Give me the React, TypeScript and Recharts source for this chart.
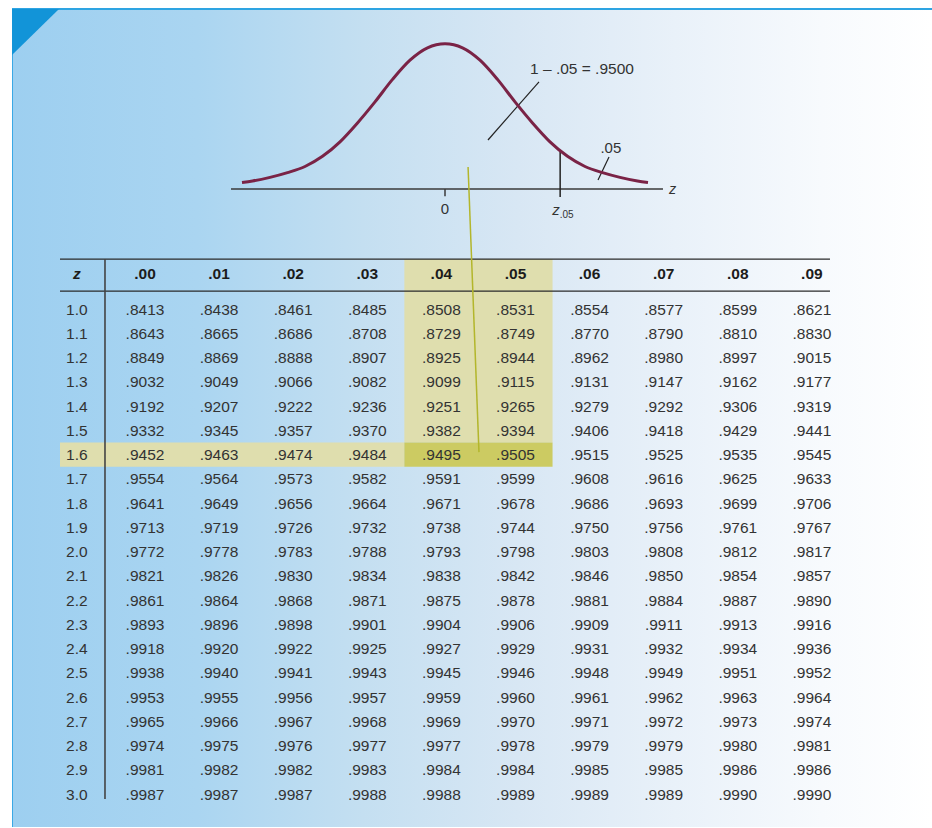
import {
  Line,
  LineChart,
  ReferenceArea,
  ReferenceDot,
  ReferenceLine,
  Scatter,
  ScatterChart,
  XAxis,
  YAxis,
} from "recharts";

// ---- table data ----
const zRows = [
  "1.0", "1.1", "1.2", "1.3", "1.4", "1.5", "1.6", "1.7", "1.8", "1.9", "2.0",
  "2.1", "2.2", "2.3", "2.4", "2.5", "2.6", "2.7", "2.8", "2.9", "3.0",
];
const colHeads = [".00", ".01", ".02", ".03", ".04", ".05", ".06", ".07", ".08", ".09"];

const col00 = [.8413, .8643, .8849, .9032, .9192, .9332, .9452, .9554, .9641, .9713, .9772, .9821, .9861, .9893, .9918, .9938, .9953, .9965, .9974, .9981, .9987];
const col01 = [.8438, .8665, .8869, .9049, .9207, .9345, .9463, .9564, .9649, .9719, .9778, .9826, .9864, .9896, .9920, .9940, .9955, .9966, .9975, .9982, .9987];
const col02 = [.8461, .8686, .8888, .9066, .9222, .9357, .9474, .9573, .9656, .9726, .9783, .9830, .9868, .9898, .9922, .9941, .9956, .9967, .9976, .9982, .9987];
const col03 = [.8485, .8708, .8907, .9082, .9236, .9370, .9484, .9582, .9664, .9732, .9788, .9834, .9871, .9901, .9925, .9943, .9957, .9968, .9977, .9983, .9988];
const col04 = [.8508, .8729, .8925, .9099, .9251, .9382, .9495, .9591, .9671, .9738, .9793, .9838, .9875, .9904, .9927, .9945, .9959, .9969, .9977, .9984, .9988];
const col05 = [.8531, .8749, .8944, .9115, .9265, .9394, .9505, .9599, .9678, .9744, .9798, .9842, .9878, .9906, .9929, .9946, .9960, .9970, .9978, .9984, .9989];
const col06 = [.8554, .8770, .8962, .9131, .9279, .9406, .9515, .9608, .9686, .9750, .9803, .9846, .9881, .9909, .9931, .9948, .9961, .9971, .9979, .9985, .9989];
const col07 = [.8577, .8790, .8980, .9147, .9292, .9418, .9525, .9616, .9693, .9756, .9808, .9850, .9884, .9911, .9932, .9949, .9962, .9972, .9979, .9985, .9989];
const col08 = [.8599, .8810, .8997, .9162, .9306, .9429, .9535, .9625, .9699, .9761, .9812, .9854, .9887, .9913, .9934, .9951, .9963, .9973, .9980, .9986, .9990];
const col09 = [.8621, .8830, .9015, .9177, .9319, .9441, .9545, .9633, .9706, .9767, .9817, .9857, .9890, .9916, .9936, .9952, .9964, .9974, .9981, .9986, .9990];

const columns = [col00, col01, col02, col03, col04, col05, col06, col07, col08, col09];

// ---- curve data (height of the bell) ----
const curveZ = [-2.9, -2.75, -2.5, -2.25, -2, -1.75, -1.5, -1.25, -1, -0.75, -0.5, -0.25, 0,
  0.25, 0.5, 0.75, 1, 1.25, 1.5, 1.75, 2, 2.25, 2.5, 2.75, 2.9];
const curveH = [0.018, 0.022, 0.032, 0.045, 0.062, 0.09, 0.13, 0.182, 0.24, 0.302, 0.355, 0.389, 0.4,
  0.389, 0.355, 0.302, 0.24, 0.182, 0.13, 0.09, 0.062, 0.045, 0.032, 0.022, 0.018];

const zCrit = 1.645;
const highlightCols = [4, 5];
const highlightRow = 6;

const FONT = "'Liberation Sans', Arial, sans-serif";
const INK = "#333";

const curveData = curveZ.map((z, i) => ({ z, d: curveH[i] }));
const critHeight = 0.102;

const cellData = columns.flatMap((col, c) =>
  col.map((v, r) => ({ col: c, row: r, label: v.toFixed(4).slice(1) })),
);
const zLabelData = zRows.map((label, r) => ({ col: -0.92, row: r, label }));
const headData = [
  { col: -0.92, row: -1.485, label: "z", italic: true },
  ...colHeads.map((label, c) => ({ col: c, row: -1.485, label, italic: false })),
];

const cellShape = (p: any) => (
  <text
    x={p.cx}
    y={p.cy}
    dy="0.36em"
    textAnchor="middle"
    fontFamily={FONT}
    fontSize={15.5}
    fill={INK}
  >
    {p.payload.label}
  </text>
);

const headShape = (p: any) => (
  <text
    x={p.cx}
    y={p.cy}
    dy="0.36em"
    textAnchor="middle"
    fontFamily={FONT}
    fontSize={15.5}
    fontWeight="bold"
    fontStyle={p.payload.italic ? "italic" : "normal"}
    fill="#1c1c1c"
  >
    {p.payload.label}
  </text>
);

const label = (text: string, opts: any = {}) => (p: any) => (
  <text
    x={p.cx}
    y={p.cy}
    dy="0.36em"
    textAnchor={opts.anchor ?? "middle"}
    fontFamily={FONT}
    fontSize={opts.size ?? 14.5}
    fontStyle={opts.italic ? "italic" : "normal"}
    fill={INK}
  >
    {text}
  </text>
);

const zCritLabel = (p: any) => (
  <text x={p.cx - 8} y={p.cy} dy="0.36em" textAnchor="start" fontFamily={FONT} fill={INK}>
    <tspan fontSize={15} fontStyle="italic">z</tspan>
    <tspan fontSize={10} dy={3}>.05</tspan>
  </text>
);

function Panel() {
  return (
    <>
      <div
        style={{
          position: "absolute",
          left: 12,
          top: 8,
          width: 920,
          height: 819,
          background:
            "linear-gradient(to right, #9dcff0 0%, #aad5f1 20%, #c4dff1 38%, #d8e7f4 55%, #e9f1f9 72%, #f7fafd 88%, #ffffff 100%)",
          borderTop: "2px solid #2ea4e2",
          borderLeft: "1px solid #3aa8e5",
          boxSizing: "border-box",
        }}
      />
      <div
        style={{
          position: "absolute",
          left: 12,
          top: 9,
          width: 47,
          height: 46,
          background: "#1294d8",
          clipPath: "polygon(0 0, 100% 0, 0 100%)",
        }}
      />
    </>
  );
}

function CurveChart() {
  return (
    <div style={{ position: "absolute", left: 0, top: 0 }}>
      <LineChart
        width={932}
        height={828}
        data={curveData}
        margin={{ top: 25.65, right: 263, bottom: 602.7, left: 221 }}
      >
        <XAxis type="number" dataKey="z" domain={[-3.2, 3.2]} hide />
        <YAxis type="number" domain={[-0.1, 0.45]} hide />
        <ReferenceLine
          segment={[{ x: -3.057, y: 0 }, { x: 3.114, y: 0 }]}
          stroke="#3a3a3a"
          strokeWidth={1.5}
        />
        <ReferenceLine
          segment={[{ x: 0, y: 0 }, { x: 0, y: -0.02 }]}
          stroke="#3a3a3a"
          strokeWidth={1.5}
        />
        <ReferenceLine
          segment={[{ x: zCrit, y: critHeight }, { x: zCrit, y: -0.022 }]}
          stroke="#222"
          strokeWidth={1.5}
        />
        <ReferenceLine
          segment={[{ x: 1.343, y: 0.295 }, { x: 0.614, y: 0.135 }]}
          stroke="#222"
          strokeWidth={1.2}
        />
        <ReferenceLine
          segment={[{ x: 2.343, y: 0.088 }, { x: 2.186, y: 0.025 }]}
          stroke="#222"
          strokeWidth={1.2}
        />
        <Line
          type="monotone"
          dataKey="d"
          stroke="#7a2346"
          strokeWidth={3}
          dot={false}
          isAnimationActive={false}
        />
        <ReferenceDot x={0} y={-0.055} r={0} shape={label("0", { size: 15 })} />
        <ReferenceDot x={zCrit} y={-0.055} r={0} shape={zCritLabel} />
        <ReferenceDot x={3.2} y={0.0} r={0} shape={label("z", { italic: true, anchor: "start" })} />
        <ReferenceDot
          x={1.215}
          y={0.333}
          r={0}
          shape={label("1 \u2013 .05 = .9500", { anchor: "start", size: 15.5 })}
        />
        <ReferenceDot x={2.22} y={0.113} r={0} shape={label(".05", { anchor: "start", size: 15 })} />
      </LineChart>
    </div>
  );
}

function TableChart() {
  const left = -1.147;
  const right = 9.244;
  const topRule = -2.062;
  const headRule = -0.742;
  const stubRule = -0.54;
  const [c0, c1] = highlightCols;
  return (
    <div style={{ position: "absolute", left: 0, top: 0 }}>
      <ScatterChart
        width={932}
        height={828}
        margin={{ top: 151.4, right: 83.05, bottom: 9.7, left: 33.85 }}
      >
        <XAxis type="number" dataKey="col" domain={[-1.5, 9.5]} hide />
        <YAxis type="number" dataKey="row" domain={[-6.5, 21]} reversed hide />
        <ReferenceArea
          x1={c0 - 0.5}
          x2={c1 + 0.5}
          y1={topRule}
          y2={highlightRow - 0.5}
          fill="#dfdeae"
          fillOpacity={1}
          stroke="none"
        />
        <ReferenceArea
          x1={left}
          x2={c0 - 0.5}
          y1={highlightRow - 0.5}
          y2={highlightRow + 0.5}
          fill="#dfdeae"
          fillOpacity={1}
          stroke="none"
        />
        <ReferenceArea
          x1={c0 - 0.5}
          x2={c1 + 0.5}
          y1={highlightRow - 0.5}
          y2={highlightRow + 0.5}
          fill="#cccb62"
          fillOpacity={1}
          stroke="none"
        />
        <ReferenceLine
          segment={[{ x: left, y: topRule }, { x: right, y: topRule }]}
          stroke="#2a2a2a"
          strokeWidth={1.3}
        />
        <ReferenceLine
          segment={[{ x: left, y: headRule }, { x: right, y: headRule }]}
          stroke="#2a2a2a"
          strokeWidth={1.3}
        />
        <ReferenceLine
          segment={[{ x: stubRule, y: topRule }, { x: stubRule, y: 20.2 }]}
          stroke="#444"
          strokeWidth={1.6}
        />
        <Scatter data={headData} shape={headShape} isAnimationActive={false} />
        <Scatter data={zLabelData} shape={cellShape} isAnimationActive={false} />
        <Scatter data={cellData} shape={cellShape} isAnimationActive={false} />
        <ReferenceLine
          segment={[{ x: 4.36, y: -5.86 }, { x: 4.507, y: 5.9 }]}
          stroke="#b3b62c"
          strokeWidth={1.5}
        />
      </ScatterChart>
    </div>
  );
}

export default function App() {
  return (
    <div
      style={{
        position: "absolute",
        left: 0,
        top: 0,
        width: 932,
        height: 828,
        background: "#fff",
        overflow: "hidden",
      }}
    >
      <Panel />
      <CurveChart />
      <TableChart />
    </div>
  );
}
